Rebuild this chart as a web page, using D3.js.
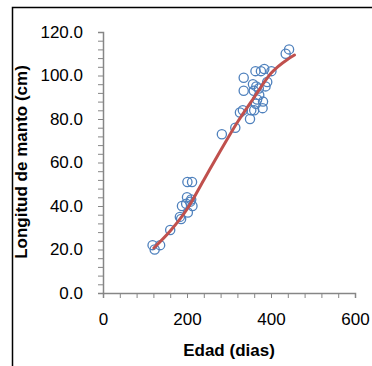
<!DOCTYPE html>
<html>
<head>
<meta charset="utf-8">
<script src="https://cdn.jsdelivr.net/npm/d3@7"></script>
<style>
  body { margin: 0; background: #fff; }
  svg { display: block; }
</style>
</head>
<body>
<div id="chart"></div>
<script>
// observed points: age (days) and mantle length (cm)
var ageObs = [118,123,136,160,183,186,188,198,200,201,202,208,210,212,213,
              283,315,326,333,335,335,350,353,357,359,363,364,367,371,376,
              380,381,384,387,391,401,435,443,365,372,360];
var lenObs = [22,20,22,29,35,34,40,41,44,51,37,42,43,51,40,
              73,76,83,84,99,93,80,84,96,93,102,87,89,94,102,
              85,88,103,95,97,102,110,112,95,91,84];

// fitted curve
var ageFit = [121,160,200,240,280,320,360,400,440,456];
var lenFit = [20.7,28.5,38.5,52,65.5,78.5,90,101,107.5,109.4];

var xTicks = d3.range(0, 601, 40);
var yTicks = d3.range(0, 121, 4);

var W = 372, H = 366;
var margin = {top: 32, right: 17, bottom: 73, left: 103},
    width = W - margin.left - margin.right,
    height = H - margin.top - margin.bottom;

var svg = d3.select("#chart").append("svg")
    .attr("width", W)
    .attr("height", H);

// chart frame
svg.append("rect")
    .attr("x", 12.5)
    .attr("y", 7.5)
    .attr("width", 400)
    .attr("height", 400)
    .style("fill", "none")
    .style("stroke", "black")
    .style("stroke-width", 1.5);

var g = svg.append("g")
    .attr("transform", "translate(" + margin.left + "," + margin.top + ")");

var x = d3.scaleLinear().domain([0, 600]).range([0, width]);
var y = d3.scaleLinear().domain([0, 120]).range([height, 0]);

var xAxis = g.append("g")
    .attr("transform", "translate(0," + height + ")")
    .call(d3.axisBottom(x)
        .tickValues(xTicks)
        .tickSizeOuter(0)
        .tickSize(5)
        .tickPadding(15)
        .tickFormat(function(d){ return d % 200 == 0 ? d : ""; }));

var yAxis = g.append("g")
    .call(d3.axisLeft(y)
        .tickValues(yTicks)
        .tickSizeOuter(0)
        .tickSize(5)
        .tickPadding(15)
        .tickFormat(function(d){ return d % 20 == 0 ? d.toFixed(1) : ""; }));

[xAxis, yAxis].forEach(function(a){
    a.select(".domain").style("stroke", "#868686").style("stroke-width", 1.5);
    a.selectAll(".tick line").style("stroke", "#868686").style("stroke-width", 1);
    a.selectAll("text")
        .style("font-family", "'Liberation Sans', Arial, sans-serif")
        .style("font-size", "17px")
        .style("fill", "#000");
});

// points
g.selectAll("circle.obs")
    .data(ageObs.map(function(d, i){ return [d, lenObs[i]]; }))
    .enter().append("circle")
    .attr("class", "obs")
    .attr("cx", function(d){ return x(d[0]); })
    .attr("cy", function(d){ return y(d[1]); })
    .attr("r", 4.6)
    .style("fill", "none")
    .style("stroke", "#4F81BD")
    .style("stroke-width", 1.3);

// fitted line
var line = d3.line()
    .x(function(d){ return x(d[0]); })
    .y(function(d){ return y(d[1]); })
    .curve(d3.curveMonotoneX);

g.append("path")
    .datum(ageFit.map(function(d, i){ return [d, lenFit[i]]; }))
    .attr("d", line)
    .style("fill", "none")
    .style("stroke", "#C0504D")
    .style("stroke-width", 3)
    .style("stroke-linecap", "round");

// axis titles
svg.append("text")
    .attr("x", margin.left + width / 2)
    .attr("y", 356)
    .attr("text-anchor", "middle")
    .style("font-family", "'Liberation Sans', Arial, sans-serif")
    .style("font-size", "17px")
    .style("font-weight", "bold")
    .text("Edad (dias)");

svg.append("text")
    .attr("transform", "translate(27," + 162 + ") rotate(-90)")
    .attr("text-anchor", "middle")
    .style("font-family", "'Liberation Sans', Arial, sans-serif")
    .style("font-size", "17px")
    .style("font-weight", "bold")
    .text("Longitud de manto (cm)");
</script>
</body>
</html>
